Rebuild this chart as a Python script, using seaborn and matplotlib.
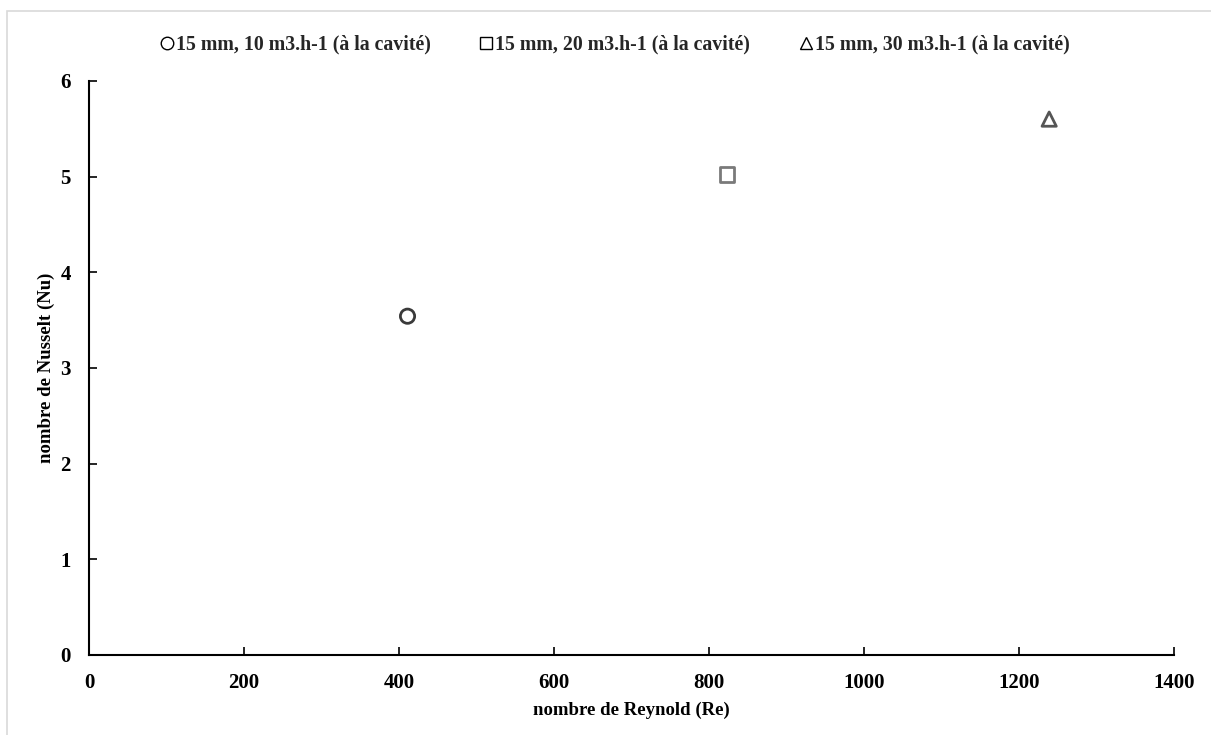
import numpy as np
import pandas as pd
import matplotlib
matplotlib.use('Agg')
import matplotlib.pyplot as plt
from matplotlib.lines import Line2D
import seaborn as sns

series = ['15 mm, 10 m3.h-1 (à la cavité)',
          '15 mm, 20 m3.h-1 (à la cavité)',
          '15 mm, 30 m3.h-1 (à la cavité)']
reynolds = [411, 823, 1239]
nusselt = [3.54, 5.02, 5.60]
x_ticks = [0, 200, 400, 600, 800, 1000, 1200, 1400]
y_ticks = [0, 1, 2, 3, 4, 5, 6]

df = pd.DataFrame({'Re': reynolds, 'Nu': nusselt, 'serie': series})

sns.set_style('white', {'xtick.bottom': True, 'ytick.left': True,
                        'xtick.direction': 'in', 'ytick.direction': 'in'})
plt.rcParams['font.family'] = ['Liberation Serif', 'DejaVu Serif']
plt.rcParams['font.weight'] = 'bold'
plt.rcParams['xtick.direction'] = 'in'
plt.rcParams['ytick.direction'] = 'in'

fig = plt.figure(figsize=(12.11, 7.35), dpi=100)
ax = fig.add_axes([0.0735, 0.109, 0.8959, 0.781])

markers = {series[0]: 'o', series[1]: 's', series[2]: '^'}
edge_cols = ['#3a3a3a', '#7a7a7a', '#555555']
sns.scatterplot(data=df, x='Re', y='Nu', style='serie', markers=markers,
                s=105, facecolor='none', edgecolor=edge_cols, linewidth=2,
                legend=False, ax=ax)

ax.set_xlim(0, 1400)
ax.set_ylim(0, 6)
ax.set_xticks(x_ticks)
ax.set_yticks(y_ticks)
ax.tick_params(axis='both', direction='in', length=6, width=1.2,
               color='black', labelcolor='black', labelsize=15)
ax.tick_params(axis='x', pad=13)
ax.tick_params(axis='y', pad=13)
for lab in ax.get_xticklabels() + ax.get_yticklabels():
    lab.set_fontweight('bold')

sns.despine(ax=ax)
for s in ['left', 'bottom']:
    ax.spines[s].set_color('black')
    ax.spines[s].set_linewidth(1.5)

ax.set_xlabel('nombre de Reynold (Re)', fontsize=13.5, fontweight='bold',
              labelpad=6, color='black')
ax.set_ylabel('nombre de Nusselt (Nu)', fontsize=13.5, fontweight='bold',
              labelpad=4, color='black')

handles = [Line2D([], [], linestyle='none', marker=m, markersize=9,
                  markerfacecolor='none', markeredgecolor='black',
                  markeredgewidth=1.0)
           for m in ['o', 's', '^']]
fig.legend(handles, series, loc='center', bbox_to_anchor=(0.508, 0.939),
           ncol=3, frameon=False, handlelength=0.6, handletextpad=0.15,
           columnspacing=2.5, prop={'size': 14.3, 'weight': 'bold'})

border = plt.Rectangle((0.006, -0.05), 1.1, 1.035, transform=fig.transFigure,
                       fill=False, edgecolor='#d9d9d9', linewidth=1.2)
fig.patches.append(border)

fig.savefig('out.png', dpi=100, facecolor='white')
